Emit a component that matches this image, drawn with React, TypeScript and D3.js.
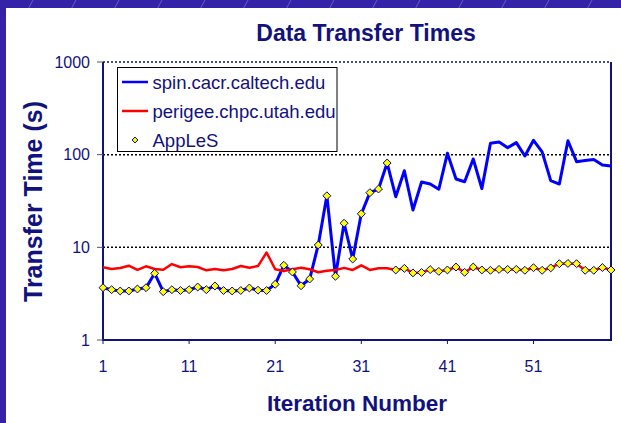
import { line, scaleLinear, scaleLog, symbol, symbolDiamond2 } from "d3";

// iteration numbers 1..60 and transfer times (s)
const iterations = [
  1, 2, 3, 4, 5, 6, 7, 8, 9, 10, 11, 12, 13, 14, 15, 16, 17, 18, 19, 20,
  21, 22, 23, 24, 25, 26, 27, 28, 29, 30, 31, 32, 33, 34, 35, 36, 37, 38, 39, 40,
  41, 42, 43, 44, 45, 46, 47, 48, 49, 50, 51, 52, 53, 54, 55, 56, 57, 58, 59, 60
];

const spinTimes = [
  3.67, 3.49, 3.38, 3.38, 3.55, 3.67, 5.24, 3.32, 3.49, 3.42,
  3.49, 3.73, 3.49, 3.83, 3.42, 3.38, 3.42, 3.64, 3.45, 3.42,
  3.99, 6.4, 5.42, 3.85, 4.55, 10.6, 36, 4.87, 18.2, 7.48,
  23, 38.9, 42.6, 81.3, 35.2, 67, 25.3, 50.7, 48.2, 42.3,
  103.5, 54.6, 51, 89.8, 43, 132.7, 137, 119, 135, 96.8,
  143, 107, 52.4, 48.2, 141.5, 84, 86.5, 88.9, 77.3, 75.5
];

const perigeeTimes = [
  6.09, 5.84, 5.98, 6.34, 5.7, 6.24, 5.84, 5.74, 6.6, 6.09,
  6.24, 6.13, 5.65, 5.84, 5.65, 5.84, 6.28, 6.03, 6.28, 8.8,
  5.8, 5.55, 5.8, 6.03, 5.8, 5.38, 5.6, 5.7, 6.0, 5.7,
  6.4, 5.7, 5.95, 5.95, 5.7, 5.93, 5.3, 5.35, 5.75, 5.5,
  5.7, 6.13, 5.37, 6.13, 5.7, 5.65, 5.78, 5.78, 5.78, 5.65,
  6.03, 5.65, 6.0, 6.66, 6.7, 6.66, 5.65, 5.65, 6.05, 5.7
];

const applesTimes = [
  3.67, 3.49, 3.38, 3.38, 3.55, 3.67, 5.24, 3.32, 3.49, 3.42,
  3.49, 3.73, 3.49, 3.83, 3.42, 3.38, 3.42, 3.64, 3.45, 3.42,
  3.99, 6.4, 5.42, 3.85, 4.55, 10.6, 36, 4.87, 18.2, 7.48,
  23, 38.9, 42.6, 81.3, 5.7, 5.93, 5.3, 5.35, 5.75, 5.5,
  5.7, 6.13, 5.37, 6.13, 5.7, 5.65, 5.78, 5.78, 5.78, 5.65,
  6.03, 5.65, 6.0, 6.66, 6.7, 6.66, 5.65, 5.65, 6.05, 5.7
];

const xTicks = [1, 11, 21, 31, 41, 51];
const yTicks = [1, 10, 100, 1000];
const yGrid = [10, 100, 1000];

const legendItems = [
  { label: "spin.cacr.caltech.edu", kind: "line", color: "#0000ff" },
  { label: "perigee.chpc.utah.edu", kind: "line", color: "#ff0000" },
  { label: "AppLeS", kind: "marker", color: "#ffff00" }
];

const width = 621;
const height = 423;
const plot = { left: 103, right: 611, top: 62, bottom: 340 };
const navy = "#12127e";
const font = "Arial, 'Liberation Sans', sans-serif";

function App() {
  const x = scaleLinear().domain([1, 60]).range([plot.left, plot.right]);
  const y = scaleLog().domain([1, 1000]).range([plot.bottom, plot.top]);

  const pathFor = (values: number[]) =>
    line<number>()
      .x((_, i) => x(iterations[i]))
      .y((d) => y(d))(values) ?? "";

  const diamond = symbol().type(symbolDiamond2).size(40)() ?? "";
  const smallDiamond = symbol().type(symbolDiamond2).size(22)() ?? "";

  return (
    <svg
      width={width}
      height={height}
      style={{ position: "absolute", left: 0, top: 0 }}
      fontFamily={font}
    >
      <defs>
        <pattern id="slash" width="43" height="43" patternUnits="userSpaceOnUse">
          <line x1={10} y1={43} x2={33} y2={0} stroke="#ffffff" strokeOpacity={0.25} strokeWidth={1} />
        </pattern>
      </defs>
      <rect x={0} y={0} width={width} height={height} fill="#3423a8" />
      <rect x={0} y={0} width={width} height={height} fill="url(#slash)" />
      <rect x={6} y={8} width={width - 6} height={height - 8} fill="#ffffff" />

      <text
        x={366}
        y={41}
        textAnchor="middle"
        fontSize={23}
        fontWeight="bold"
        fill={navy}
      >
        Data Transfer Times
      </text>

      {/* gridlines */}
      {yGrid.map((v) => (
        <line
          key={v}
          x1={plot.left}
          x2={plot.right}
          y1={y(v)}
          y2={y(v)}
          stroke={v === 1000 ? navy : "#000000"}
          strokeWidth={1.5}
          strokeDasharray="2,2"
        />
      ))}

      {/* axes */}
      <line x1={plot.right} x2={plot.right} y1={plot.top} y2={plot.bottom} stroke={navy} strokeWidth={2} />
      <line x1={plot.left} x2={plot.left} y1={plot.top} y2={plot.bottom + 1} stroke={navy} strokeWidth={2} />
      <line x1={plot.left} x2={plot.right + 1} y1={plot.bottom} y2={plot.bottom} stroke={navy} strokeWidth={2} />
      {yTicks.map((v) => (
        <g key={v}>
          <line x1={plot.left - 6} x2={plot.left} y1={y(v)} y2={y(v)} stroke="#555555" strokeWidth={1} />
          <text
            x={90}
            y={y(v)}
            textAnchor="end"
            dominantBaseline="central"
            fontSize={16}
            fill={navy}
          >
            {v}
          </text>
        </g>
      ))}
      {xTicks.map((v) => (
        <g key={v}>
          <line x1={x(v)} x2={x(v)} y1={plot.bottom} y2={plot.bottom + 4} stroke={navy} strokeWidth={1} />
          <text x={x(v)} y={372} textAnchor="middle" fontSize={16} fill={navy}>
            {v}
          </text>
        </g>
      ))}

      <text
        transform="translate(42, 201.5) rotate(-90)"
        textAnchor="middle"
        fontSize={25}
        fontWeight="bold"
        fill={navy}
      >
        Transfer Time (s)
      </text>
      <text x={357} y={411} textAnchor="middle" fontSize={22.5} fontWeight="bold" fill={navy}>
        Iteration Number
      </text>

      {/* series */}
      <path d={pathFor(spinTimes)} fill="none" stroke="#0000ff" strokeWidth={3} strokeLinejoin="round" />
      <path d={pathFor(perigeeTimes)} fill="none" stroke="#ff0000" strokeWidth={2.5} strokeLinejoin="round" />
      {applesTimes.map((v, i) => (
        <path
          key={i}
          d={diamond}
          transform={`translate(${x(iterations[i])}, ${y(v)})`}
          fill="#ffff00"
          stroke="#000080"
          strokeWidth={1}
        />
      ))}

      {/* legend */}
      <rect x={117.5} y={67.5} width={219.5} height={84} fill="#ffffff" stroke="#000000" strokeWidth={1} />
      {legendItems.map((item, i) => {
        const cy = 82 + i * 29;
        return (
          <g key={item.label}>
            {item.kind === "line" ? (
              <line x1={122} x2={148} y1={cy} y2={cy} stroke={item.color} strokeWidth={2.5} />
            ) : (
              <path
                d={smallDiamond}
                transform={`translate(135, ${cy})`}
                fill={item.color}
                stroke="#000080"
                strokeWidth={1}
              />
            )}
            <text x={152.5} y={cy} dominantBaseline="central" fontSize={18.5} fill={navy}>
              {item.label}
            </text>
          </g>
        );
      })}
    </svg>
  );
}

export default App;
